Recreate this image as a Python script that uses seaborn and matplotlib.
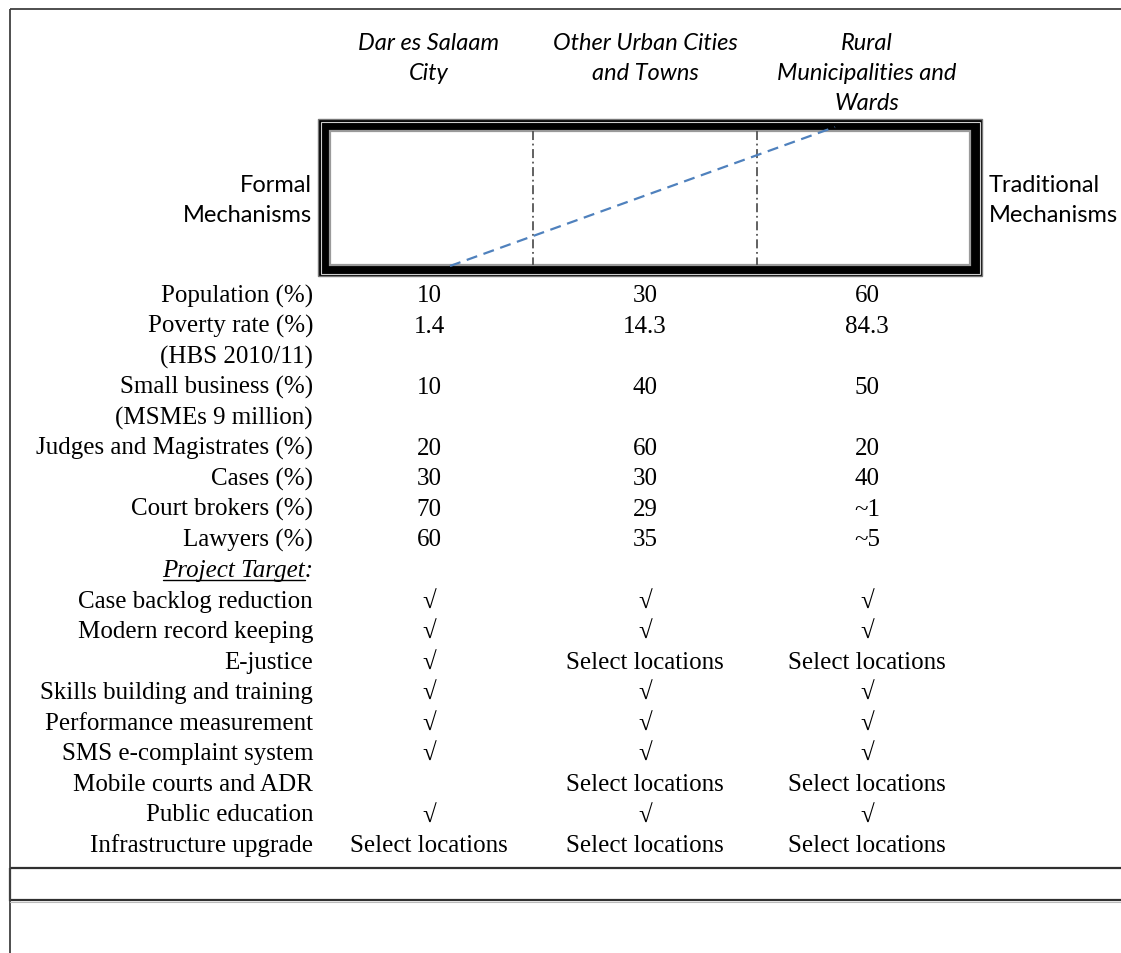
import matplotlib
matplotlib.use("Agg")
import matplotlib.pyplot as plt
from matplotlib.patches import Rectangle
import seaborn as sns
import pandas as pd

# ---------------- data ----------------
column_headers = ["Dar es Salaam\nCity", "Other Urban Cities\nand Towns",
                  "Rural\nMunicipalities and\nWards"]
side_left = "Formal\nMechanisms"
side_right = "Traditional\nMechanisms"

row_labels = ["Population (%)", "Poverty rate (%)", "(HBS 2010/11)",
              "Small business (%)", "(MSMEs 9 million)",
              "Judges and Magistrates (%)", "Cases (%)", "Court brokers (%)",
              "Lawyers (%)", "Project Target:", "Case backlog reduction",
              "Modern record keeping", "E-justice",
              "Skills building and training", "Performance measurement",
              "SMS e-complaint system", "Mobile courts and ADR",
              "Public education", "Infrastructure upgrade"]
CK = "\u221a"
SL = "Select locations"
dar_es_salaam = ["10", "1.4", "", "10", "", "20", "30", "70", "60", "",
                 CK, CK, CK, CK, CK, CK, "", CK, SL]
other_urban = ["30", "14.3", "", "40", "", "60", "30", "29", "35", "",
               CK, CK, SL, CK, CK, CK, SL, CK, SL]
rural = ["60", "84.3", "", "50", "", "20", "40", "~1", "~5", "",
         CK, CK, SL, CK, CK, CK, SL, CK, SL]

# conceptual trend line (formal -> traditional) across the spectrum box
trend_x = [450, 835]
trend_y = [267, 128]

# ---------------- figure ----------------
sns.set_theme(style="white")
plt.rcParams["font.family"] = ["Liberation Serif", "DejaVu Serif"]

W, H = 1121, 954
fig = plt.figure(figsize=(W / 100, H / 100), dpi=100)
ax = fig.add_axes([0, 0, 1, 1])
ax.set_xlim(0, W)
ax.set_ylim(H, 0)
ax.axis("off")

serif = ["Liberation Serif", "DejaVu Serif"]
sans = ["Lato", "DejaVu Sans"]
fs_serif = 18
fs_sans = 17

# outer frame lines
ax.plot([10, W], [10, 10], color="#404040", lw=1.3, solid_capstyle="butt")
ax.plot([10, 10], [10, H], color="#404040", lw=1.3, solid_capstyle="butt")
# bottom empty box
ax.add_patch(Rectangle((10, 869), W, 32, facecolor="none",
                       edgecolor="#303030", lw=1.6))
ax.plot([10, W], [902.5, 902.5], color="#bbbbbb", lw=0.8)

# spectrum box with triple border
bx0, bx1, by0, by1 = 318, 982, 120, 277
ax.add_patch(Rectangle((bx0, by0), bx1 - bx0, by1 - by0,
                       facecolor="black", edgecolor="#777777", lw=1.0))
ax.add_patch(Rectangle((bx0 + 2.5, by0 + 2.5), bx1 - bx0 - 5, by1 - by0 - 5,
                       facecolor="none", edgecolor="#cfcfcf", lw=0.8))
ix0, ix1, iy0, iy1 = bx0 + 12, bx1 - 12, by0 + 12, by1 - 11
ax.add_patch(Rectangle((ix0, iy0), ix1 - ix0, iy1 - iy0,
                       facecolor="white", edgecolor="#9a9a9a", lw=1.6))

# column centres and divider positions
col_x = [429, 645, 867]
div_x = [533, 757]
for dx in div_x:
    ax.plot([dx, dx], [iy0, iy1], color="#555555", lw=1.3,
            linestyle=(0, (5, 2, 1, 2)))

trend = pd.DataFrame({"x": trend_x, "y": trend_y})
sns.lineplot(data=trend, x="x", y="y", ax=ax, color="#4f81bd", lw=1.6,
             linestyle=(0, (5, 3)), sort=False)
ax.set_xlim(0, W)
ax.set_ylim(H, 0)
ax.axis("off")

# column headers
for cx, head in zip(col_x, column_headers):
    for i, line in enumerate(head.split("\n")):
        ax.text(cx, 44 + 30 * i, line, ha="center", va="center",
                family=sans, style="italic", fontsize=fs_sans, color="black")

# side labels
for i, line in enumerate(side_left.split("\n")):
    ax.text(312, 185 + 30 * i, line, ha="right", va="center",
            family=sans, fontsize=fs_sans, color="black")
for i, line in enumerate(side_right.split("\n")):
    ax.text(989, 185 + 30 * i, line, ha="left", va="center",
            family=sans, fontsize=fs_sans, color="black")

# table rows
y0, dy = 296, (846 - 296) / 18
fig.canvas.draw()
renderer = fig.canvas.get_renderer()
for i, lab in enumerate(row_labels):
    y = y0 + dy * i
    if lab == "Project Target:":
        t = ax.text(313, y, lab, ha="right", va="center", family=serif,
                    style="italic", fontsize=fs_serif, color="black")
        u = ax.text(313, y, ":", ha="right", va="center", family=serif,
                    style="italic", fontsize=fs_serif, color="none")
        bb = t.get_window_extent(renderer).transformed(ax.transData.inverted())
        bc = u.get_window_extent(renderer).transformed(ax.transData.inverted())
        u.remove()
        x_left = min(bb.x0, bb.x1)
        x_right = min(bc.x0, bc.x1)
        ax.plot([x_left + 1, x_right], [y + 10, y + 10], color="black", lw=1.0)
    else:
        ax.text(313, y, lab, ha="right", va="center", family=serif,
                fontsize=fs_serif, color="black")
    for cx, vals in zip(col_x, [dar_es_salaam, other_urban, rural]):
        v = vals[i]
        if v:
            ax.text(cx, y, v, ha="center", va="center", family=serif,
                    fontsize=fs_serif, color="black")

fig.savefig("out.png", dpi=100, facecolor="white")
